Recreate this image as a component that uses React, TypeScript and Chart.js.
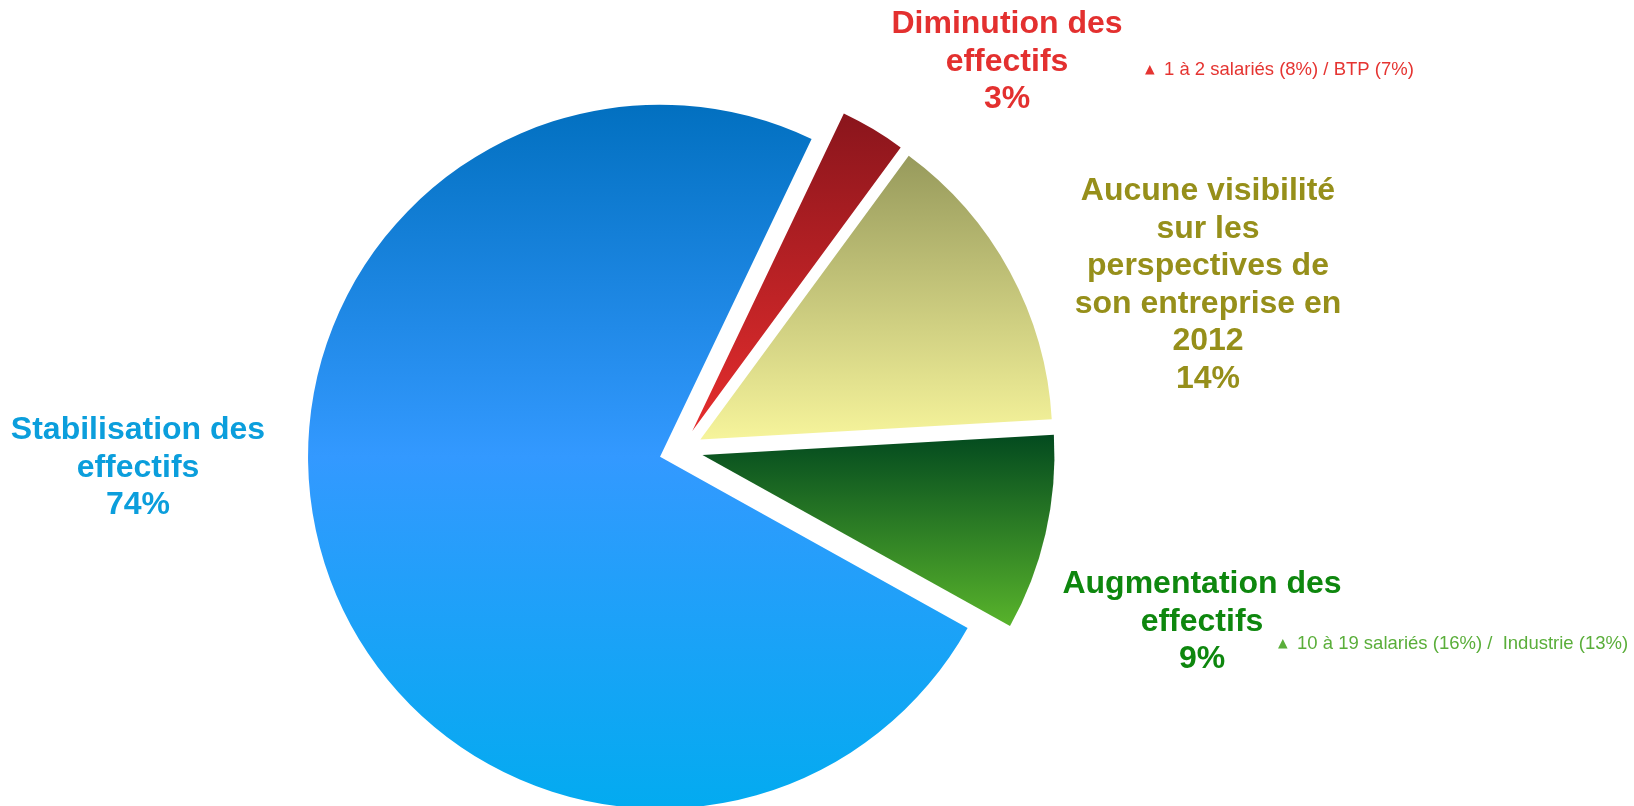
import React, { useEffect, useRef } from "react";
import { Chart, registerables } from "chart.js";

Chart.register(...registerables);

// ---- data ----
const categories = [
  "Diminution des effectifs",
  "Aucune visibilité sur les perspectives de son entreprise en 2012",
  "Augmentation des effectifs",
  "Stabilisation des effectifs",
];
const values = [3, 14, 9, 74];
const percentLabels = ["3%", "14%", "9%", "74%"];
const labelLines = [
  ["Diminution des", "effectifs"],
  ["Aucune visibilité", "sur les", "perspectives de", "son entreprise en", "2012"],
  ["Augmentation des", "effectifs"],
  ["Stabilisation des", "effectifs"],
];
const notes = [
  "1 à 2 salariés (8%) / BTP (7%)",
  "",
  "10 à 19 salariés (16%) /  Industrie (13%)",
  "",
];

// ---- styles / layout ----
const W = 1634;
const H = 806;
const explodeDistance = 22;
const pieRadius = 352;
const gradientStops: string[][] = [
  ["#8a151c", "#e52d2d"],
  ["#979a5c", "#f6f49b"],
  ["#034a1f", "#58b32b"],
  ["#0270c0", "#3399ff", "#03abf0"],
];
const labelColors = ["#e3302f", "#968f1a", "#0e870e", "#0b9edc"];
const noteColors = ["#e53431", "", "#5aae3a", ""];
const labelFont = 'bold 32px "Liberation Sans", Arial, sans-serif';
const noteFont = '18.5px "Liberation Sans", Arial, sans-serif';
const lineHeight = 37.6;
const labelAnchors = [
  { x: 1007, y: 33 },
  { x: 1208, y: 200 },
  { x: 1202, y: 593 },
  { x: 138, y: 439 },
];
const noteAnchors = [
  { x: 1145, y: 75 },
  null,
  { x: 1278, y: 649 },
  null,
];

const explodePlugin = {
  id: "explodeAndShade",
  afterDatasetsUpdate(chart: any) {
    const meta = chart.getDatasetMeta(0);
    meta.data.forEach((el: any) => {
      const mid = (el.startAngle + el.endAngle) / 2;
      el.x += Math.cos(mid) * explodeDistance;
      el.y += Math.sin(mid) * explodeDistance;
    });
  },
  beforeDatasetsDraw(chart: any) {
    const ctx = chart.ctx as CanvasRenderingContext2D;
    const meta = chart.getDatasetMeta(0);
    meta.data.forEach((el: any, i: number) => {
      let minY = el.y;
      let maxY = el.y;
      const n = 128;
      for (let k = 0; k <= n; k++) {
        const a = el.startAngle + ((el.endAngle - el.startAngle) * k) / n;
        const y = el.y + Math.sin(a) * el.outerRadius;
        if (y < minY) minY = y;
        if (y > maxY) maxY = y;
      }
      const g = ctx.createLinearGradient(0, minY, 0, maxY);
      const stops = gradientStops[i];
      stops.forEach((c, j) => g.addColorStop(j / (stops.length - 1), c));
      el.options = Object.assign({}, el.options, { backgroundColor: g });
    });
  },
  afterDraw(chart: any) {
    const ctx = chart.ctx as CanvasRenderingContext2D;
    ctx.save();
    labelLines.forEach((lines, i) => {
      const a = labelAnchors[i];
      const all = [...lines, percentLabels[i]];
      ctx.font = labelFont;
      ctx.fillStyle = labelColors[i];
      ctx.textAlign = "center";
      ctx.textBaseline = "alphabetic";
      all.forEach((t, k) => ctx.fillText(t, a.x, a.y + k * lineHeight));
      const na = noteAnchors[i];
      if (na && notes[i]) {
        ctx.fillStyle = noteColors[i];
        ctx.textAlign = "left";
        ctx.font = '12.5px "DejaVu Sans", sans-serif';
        ctx.fillText("▲", na.x, na.y - 2);
        ctx.font = noteFont;
        ctx.fillText(notes[i], na.x + 19, na.y);
      }
    });
    ctx.restore();
  },
};

export default function App() {
  const ref = useRef<HTMLCanvasElement | null>(null);
  useEffect(() => {
    if (!ref.current) return;
    const chart = new Chart(ref.current, {
      type: "pie",
      data: {
        labels: categories,
        datasets: [
          {
            data: values,
            backgroundColor: gradientStops.map((s) => s[s.length - 1]),
            borderWidth: 0,
          },
        ],
      },
      options: {
        responsive: false,
        animation: false,
        devicePixelRatio: 1,
        rotation: 25.5,
        radius: pieRadius,
        layout: { padding: { top: 94, right: 272, left: 0, bottom: 0 } },
        plugins: {
          legend: { display: false },
          tooltip: { enabled: false },
        },
        events: [],
      },
      plugins: [explodePlugin],
    } as any);
    return () => chart.destroy();
  }, []);
  return (
    <div
      style={{
        position: "fixed",
        left: 0,
        top: 0,
        width: W,
        height: H,
        background: "#ffffff",
        overflow: "hidden",
      }}
    >
      <canvas ref={ref} width={W} height={H} style={{ display: "block" }} />
    </div>
  );
}
